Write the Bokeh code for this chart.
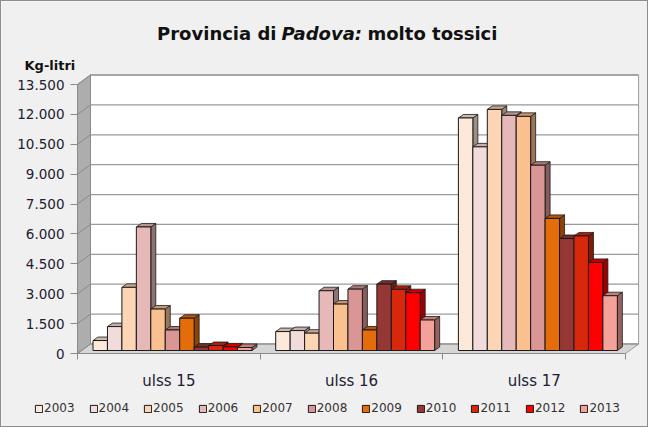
import numpy as np
from bokeh.plotting import figure
from bokeh.models import Range1d, FixedTicker, Label, Legend, LegendItem
from bokeh.embed import file_html
from bokeh.resources import INLINE

# ---------------- data ----------------
categories = ["ulss 15", "ulss 16", "ulss 17"]
years = ["2003", "2004", "2005", "2006", "2007", "2008", "2009", "2010", "2011", "2012", "2013"]
ulss15 = [500, 1200, 3170, 6200, 2080, 1030, 1620, 170, 250, 180, 150]
ulss16 = [950, 1000, 870, 3000, 2330, 3080, 1030, 3330, 3070, 2900, 1530]
ulss17 = [11670, 10220, 12100, 11800, 11750, 9300, 6630, 5620, 5750, 4420, 2750]
y_ticks = [0, 1500, 3000, 4500, 6000, 7500, 9000, 10500, 12000, 13500]
y_tick_labels = ["0", "1.500", "3.000", "4.500", "6.000", "7.500", "9.000", "10.500", "12.000", "13.500"]
colors = ["#FDE9D9", "#F2DCDB", "#FCD5B5", "#E6B9B8", "#FAC090", "#D99694",
          "#E46C0A", "#953735", "#D7280B", "#FF0000", "#F4A19A"]

series = [ulss15, ulss16, ulss17]

# ---------------- geometry (page px -> data) ----------------
W, H = 648, 427
ORIG_X, ORIG_Y = 84, 360          # page px of the data origin
FIG_X, FIG_Y = 8, 8               # page px of the figure's corner
CAT_PX = 182.7                    # pixels per category
Y_PER_PX = 13500 / 269.0          # value units per pixel


def px2x(px):
    return (px - ORIG_X) / CAT_PX


def py2y(py):
    return (ORIG_Y - py) * Y_PER_PX


x_start, x_end = px2x(FIG_X), px2x(FIG_X + W)
y_start, y_end = py2y(FIG_Y + H), py2y(FIG_Y)

WX, WY = 13 / CAT_PX, 9.5 * Y_PER_PX      # wall depth
BDX, BDY = 5 / CAT_PX, 3.5 * Y_PER_PX     # bar depth
BASE = 3 * Y_PER_PX                       # bar front plane above axis
SLOT = 14.45 / CAT_PX
GROUP_OFF = 15.5 / CAT_PX
NCAT = len(categories)
YTOP = y_ticks[-1]


def darker(hexcol, f):
    h = hexcol.lstrip("#")
    r, g, b = (int(h[i:i + 2], 16) for i in (0, 2, 4))
    return "#%02x%02x%02x" % (int(r * f), int(g * f), int(b * f))


p = figure(width=W, height=H, x_range=Range1d(x_start, x_end), y_range=Range1d(y_start, y_end),
           output_backend="svg", toolbar_location=None,
           min_border_left=0, min_border_right=0, min_border_top=0, min_border_bottom=0)
p.border_fill_color = "#F0F0F0"
p.background_fill_color = "#F0F0F0"
p.outline_line_color = None
p.xgrid.visible = False
p.ygrid.visible = False
p.styles = {"border": "1px solid #8c8c8c"}

# walls and floor
p.patch([WX, NCAT + WX, NCAT + WX, WX], [WY, WY, YTOP + WY, YTOP + WY],
        fill_color="white", line_color="#9a9a9a", line_width=1)
p.patch([0, 0, WX, WX], [0, YTOP, YTOP + WY, WY],
        fill_color="#ADADAD", line_color="#8a8a8a", line_width=1)
p.patch([0, NCAT, NCAT + WX, WX], [0, 0, WY, WY],
        fill_color="#D6D6D6", line_color="#9a9a9a", line_width=1)

ty = np.array(y_ticks, dtype=float)
p.segment(x0=WX, y0=ty + WY, x1=NCAT + WX, y1=ty + WY, line_color="#9a9a9a", line_width=1.3)
p.segment(x0=0, y0=ty, x1=WX, y1=ty + WY, line_color="#8a8a8a", line_width=1)

# bar back faces (side + top)
xs_b, ys_b, col_b = [], [], []
for c, vals in enumerate(series):
    for i, v in enumerate(vals):
        xl = c + GROUP_OFF + i * SLOT
        xr = xl + SLOT
        b, t = BASE, BASE + v
        xs_b.append([xr, xr + BDX, xr + BDX, xr])
        ys_b.append([b, b + BDY, t + BDY, t])
        col_b.append(darker(colors[i], 0.62))
        xs_b.append([xl, xr, xr + BDX, xl + BDX])
        ys_b.append([t, t, t + BDY, t + BDY])
        col_b.append(darker(colors[i], 0.8))
p.patches(xs_b, ys_b, fill_color=col_b, line_color="#1a1a1a", line_width=0.8)

# bar front faces
items = []
for i, yr in enumerate(years):
    xc = [c + GROUP_OFF + (i + 0.5) * SLOT for c in range(NCAT)]
    vals = [s[i] for s in series]
    r = p.vbar(x=xc, width=SLOT, bottom=BASE, top=[BASE + v for v in vals],
               fill_color=colors[i], line_color="#1a1a1a", line_width=1)
    items.append(LegendItem(label=yr, renderers=[r]))

legend = Legend(items=items, orientation="horizontal", location=(41 - FIG_X, 13),
                glyph_width=9, glyph_height=9, label_standoff=1, spacing=14,
                label_text_font="DejaVu Sans", label_text_font_size="12px",
                label_text_color="#333333", label_height=12, label_width=30,
                padding=0, margin=0, border_line_color=None, background_fill_alpha=0)
p.add_layout(legend)

# axes (pinned at the data origin)
p.yaxis.fixed_location = 0
p.yaxis.bounds = (0, YTOP)
p.yaxis.ticker = FixedTicker(ticks=y_ticks)
p.yaxis.major_label_overrides = {t: l for t, l in zip(y_ticks, y_tick_labels)}
p.yaxis.major_tick_out = 7
p.yaxis.major_tick_in = 0
p.yaxis.minor_tick_line_color = None
p.yaxis.axis_line_color = "#8a8a8a"
p.yaxis.major_tick_line_color = "#8a8a8a"
p.yaxis.major_label_standoff = 6
p.yaxis.major_label_text_font = "DejaVu Sans"
p.yaxis.major_label_text_font_size = "13.5px"
p.yaxis.major_label_text_color = "#202030"

cat_centers = [c + 0.5 for c in range(NCAT)]
p.xaxis.fixed_location = 0
p.xaxis.bounds = (0, NCAT)
p.xaxis.ticker = FixedTicker(ticks=cat_centers, minor_ticks=list(range(NCAT + 1)))
p.xaxis.major_label_overrides = {t: l for t, l in zip(cat_centers, categories)}
p.xaxis.major_tick_out = 0
p.xaxis.major_tick_in = 0
p.xaxis.minor_tick_out = 6
p.xaxis.minor_tick_in = 0
p.xaxis.minor_tick_line_color = "#8a8a8a"
p.xaxis.axis_line_color = "#8a8a8a"
p.xaxis.major_label_standoff = 12
p.xaxis.major_label_text_font = "DejaVu Sans"
p.xaxis.major_label_text_font_size = "15px"
p.xaxis.major_label_text_color = "#202030"

# title (mixed roman / italic) and unit label
tkw = dict(text_font="DejaVu Sans", text_font_size="18px", text_color="#111111",
           text_baseline="alphabetic")
p.add_layout(Label(x=px2x(283), y=py2y(40), text="Provincia di", text_align="right",
                   text_font_style="bold", **tkw))
p.add_layout(Label(x=px2x(288), y=py2y(40), text="Padova:", text_align="left",
                   text_font_style="bold italic", **tkw))
p.add_layout(Label(x=px2x(374), y=py2y(40), text="molto tossici", text_align="left",
                   text_font_style="bold", **tkw))
p.add_layout(Label(x=px2x(31), y=py2y(72), text="Kg-litri", text_align="left",
                   text_font="DejaVu Sans", text_font_size="13px", text_font_style="bold",
                   text_color="#111111", text_baseline="alphabetic"))

open("out.html", "w").write(file_html(p, INLINE))
